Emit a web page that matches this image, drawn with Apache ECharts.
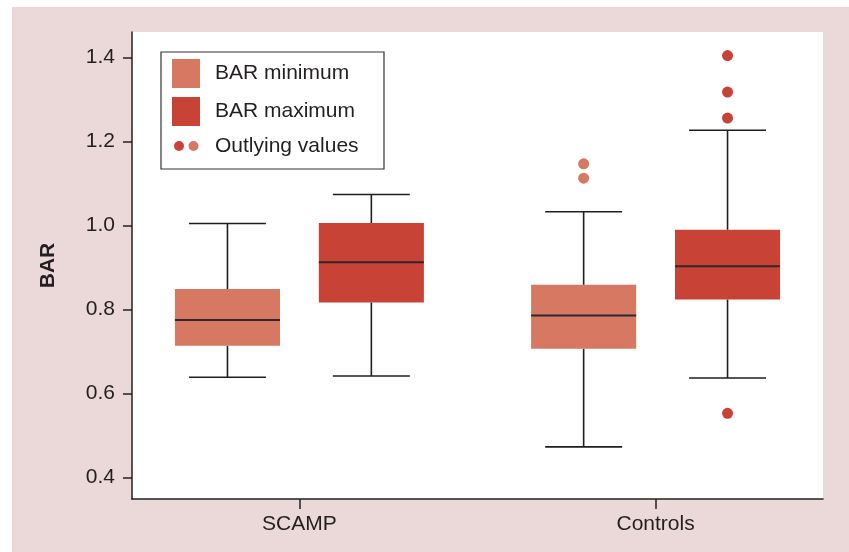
<!DOCTYPE html>
<html>
<head>
<meta charset="utf-8">
<script src="https://cdn.jsdelivr.net/npm/echarts@6/dist/echarts.min.js"></script>
<style>
  html, body { margin: 0; padding: 0; background: #fff; }
  #chart { position: absolute; left: 12px; top: 7px; width: 837px; height: 545px; }
</style>
</head>
<body>
<div id="chart"></div>
<script>
// data
const categories = ['SCAMP', 'Controls'];
// [lower whisker, Q1, median, Q3, upper whisker]
const minBoxes = [
  [0.639, 0.714, 0.775, 0.849, 1.005],
  [0.473, 0.707, 0.786, 0.859, 1.033]
];
const maxBoxes = [
  [0.642, 0.817, 0.913, 1.006, 1.074],
  [0.637, 0.824, 0.903, 0.990, 1.227]
];
const minOutliers = [[], [1.147, 1.113]];
const maxOutliers = [[], [1.405, 1.318, 1.256, 0.553]];
const yTicks = [0.4, 0.6, 0.8, 1.0, 1.2, 1.4];

const colMin = '#D67862';
const colMax = '#C84236';
const boxW = 0.295;   // in x-axis units
const capW = 0.216;
const shift = 0.202;  // box offset from group centre
const font = 'Liberation Sans, Arial, Helvetica, sans-serif';

const myChart = echarts.init(document.getElementById('chart'));

const boxRenderer = (offset, color) => (params, api) => {
  const x = api.value(0) + offset;
  const lo = api.coord([x, api.value(1)]);
  const q1 = api.coord([x, api.value(2)]);
  const md = api.coord([x, api.value(3)]);
  const q3 = api.coord([x, api.value(4)]);
  const hi = api.coord([x, api.value(5)]);
  const bw = api.size([boxW, 0])[0];
  const cw = api.size([capW, 0])[0];
  const cx = lo[0];
  const wStyle = { stroke: '#1e1e1e', lineWidth: 1.6 };
  return {
    type: 'group',
    children: [
      { type: 'line', shape: { x1: cx, y1: lo[1], x2: cx, y2: q1[1] }, style: wStyle },
      { type: 'line', shape: { x1: cx, y1: q3[1], x2: cx, y2: hi[1] }, style: wStyle },
      { type: 'line', shape: { x1: cx - cw / 2, y1: lo[1], x2: cx + cw / 2, y2: lo[1] }, style: wStyle },
      { type: 'line', shape: { x1: cx - cw / 2, y1: hi[1], x2: cx + cw / 2, y2: hi[1] }, style: wStyle },
      { type: 'rect', shape: { x: cx - bw / 2, y: q3[1], width: bw, height: q1[1] - q3[1] }, style: { fill: color } },
      { type: 'line', shape: { x1: cx - bw / 2, y1: md[1], x2: cx + bw / 2, y2: md[1] }, style: { stroke: '#2a2a2a', lineWidth: 2 } }
    ]
  };
};

const boxData = (boxes) => boxes.map((b, i) => [i + 1].concat(b));
const outlierData = (list, offset) => {
  const out = [];
  list.forEach((vals, i) => vals.forEach((v) => out.push([i + 1 + offset, v])));
  return out;
};

const dotsIcon = 'image://data:image/svg+xml;utf8,' + encodeURIComponent(
  '<svg xmlns="http://www.w3.org/2000/svg" width="28" height="29">' +
  '<circle cx="7" cy="14.5" r="5" fill="' + colMax + '"/>' +
  '<circle cx="21.5" cy="14.5" r="5" fill="' + colMin + '"/></svg>'
);

const option = {
  backgroundColor: '#EBD8D8',
  animation: false,
  textStyle: { fontFamily: font },
  grid: {
    left: 120, top: 25, right: 26, bottom: 53,
    show: true, backgroundColor: '#fff', borderWidth: 0
  },
  legend: [
    {
      left: 160, top: 52, orient: 'vertical', padding: 0,
      itemWidth: 28, itemHeight: 29, itemGap: 9, selectedMode: false,
      textStyle: { fontSize: 21, color: '#231f20', padding: [0, 0, 0, 10] },
      data: [
        { name: 'BAR minimum', icon: 'rect' },
        { name: 'BAR maximum', icon: 'rect' }
      ]
    },
    {
      left: 160, top: 124.5, orient: 'vertical', padding: 0,
      itemWidth: 28, itemHeight: 29, selectedMode: false,
      textStyle: { fontSize: 21, color: '#231f20', padding: [0, 0, 0, 10] },
      data: [{ name: 'Outlying values', icon: dotsIcon }]
    }
  ],
  graphic: [
    {
      type: 'rect', left: 146.5, top: 42.5, z: 100,
      shape: { width: 223, height: 117 },
      style: { fill: 'none', stroke: '#333', lineWidth: 1.2 }
    }
  ],
  xAxis: {
    type: 'value', min: 0.53, max: 2.47,
    splitLine: { show: false },
    axisLine: { show: true, lineStyle: { color: '#222', width: 1.5 } },
    axisTick: { show: true, length: 10, customValues: [1, 2], lineStyle: { color: '#222', width: 1.5 } },
    axisLabel: {
      customValues: [1, 2], margin: 15, fontSize: 21, color: '#231f20',
      formatter: (v) => categories[Math.round(v) - 1]
    }
  },
  yAxis: {
    type: 'value', min: 0.349, max: 1.461,
    name: 'BAR', nameLocation: 'middle', nameGap: 73,
    nameTextStyle: { fontSize: 21, fontWeight: 'bold', color: '#231f20' },
    splitLine: { show: false },
    axisLine: { show: true, lineStyle: { color: '#222', width: 1.5 } },
    axisTick: { show: true, length: 9, customValues: yTicks, lineStyle: { color: '#222', width: 1.5 } },
    axisLabel: {
      customValues: yTicks, margin: 17, fontSize: 21, color: '#231f20',
      formatter: (v) => v.toFixed(1)
    }
  },
  series: [
    {
      name: 'BAR minimum', type: 'custom', itemStyle: { color: colMin },
      renderItem: boxRenderer(-shift, colMin), data: boxData(minBoxes)
    },
    {
      name: 'BAR maximum', type: 'custom', itemStyle: { color: colMax },
      renderItem: boxRenderer(shift, colMax), data: boxData(maxBoxes)
    },
    {
      name: 'Outlying values', type: 'scatter', symbolSize: 11,
      itemStyle: { color: colMax, opacity: 1 }, data: outlierData(maxOutliers, shift)
    },
    {
      name: 'Outlying values', type: 'scatter', symbolSize: 11,
      itemStyle: { color: colMin, opacity: 1 }, data: outlierData(minOutliers, -shift)
    }
  ]
};

option && myChart.setOption(option);
</script>
</body>
</html>
